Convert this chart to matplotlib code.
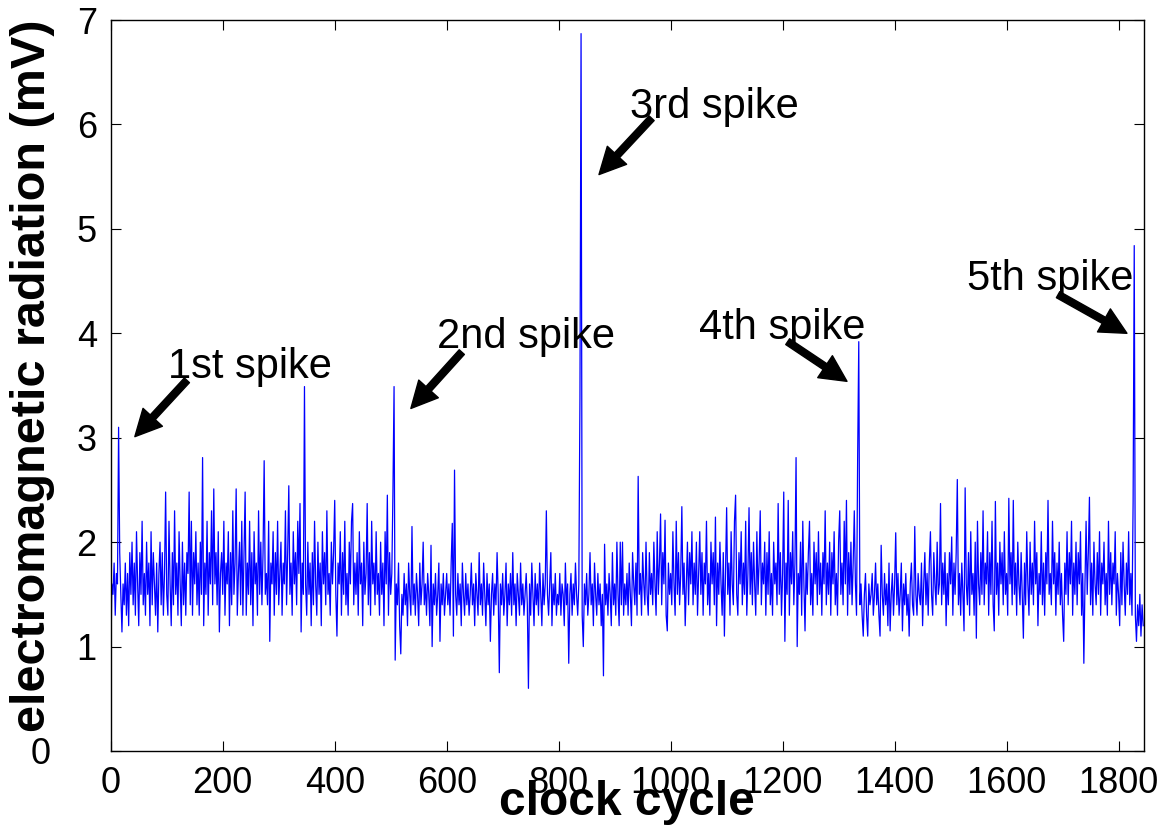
import numpy as np
import matplotlib
matplotlib.use("Agg")
import matplotlib.pyplot as plt

plt.rcParams['font.family'] = ['Liberation Sans', 'DejaVu Sans']

radiation_mv = [
    0.8, 1.6, 1.5, 1.8, 1.3, 1.7, 1.6, 3.1, 1.9, 1.5, 1.14, 1.6, 1.4, 1.8, 1.3, 1.7, 1.2, 1.9, 1.5, 2.0,
    1.4, 1.8, 1.3, 2.1, 1.6, 1.2, 1.9, 1.5, 2.2, 1.4, 1.7, 1.3, 2.0, 1.5, 1.8, 1.2, 2.1, 1.4, 1.9, 1.6,
    1.3, 1.8, 1.14, 1.7, 2.0, 1.4, 1.9, 1.3, 1.7, 2.48, 1.5, 1.3, 2.2, 1.6, 1.2, 1.9, 1.4, 2.3, 1.5, 1.8,
    1.3, 2.1, 1.6, 1.2, 2.0, 1.4, 1.8, 1.3, 1.9, 1.7, 2.48, 1.4, 2.2, 1.3, 1.9, 1.6, 2.1, 1.4, 1.8, 1.3,
    2.0, 1.5, 2.81, 1.2, 1.8, 1.5, 2.2, 1.3, 1.9, 1.6, 2.3, 1.4, 2.51, 1.6, 1.9, 1.4, 2.1, 1.14, 1.7, 1.9,
    1.5, 2.2, 1.3, 1.8, 1.6, 2.1, 1.2, 1.9, 1.4, 2.3, 1.5, 1.8, 2.51, 1.3, 1.7, 2.0, 1.4, 2.2, 1.3, 1.9,
    2.48, 1.3, 1.8, 1.5, 2.2, 1.4, 1.9, 1.2, 2.1, 1.6, 1.8, 1.3, 2.3, 1.5, 2.0, 1.4, 1.9, 2.78, 1.5, 1.7,
    1.4, 2.2, 1.05, 1.8, 1.6, 2.1, 1.3, 1.9, 1.5, 2.2, 1.4, 1.7, 2.0, 1.3, 1.8, 1.6, 2.3, 1.4, 1.9, 2.54,
    1.5, 1.8, 1.3, 2.1, 1.6, 1.9, 1.4, 2.2, 1.7, 2.37, 1.14, 1.8, 1.5, 3.49, 1.6, 1.3, 2.0, 1.5, 1.8, 1.2,
    1.9, 1.4, 2.2, 1.6, 1.3, 2.0, 1.5, 1.8, 1.2, 2.1, 1.6, 1.9, 1.4, 2.3, 1.5, 1.7, 1.3, 2.0, 1.6, 1.9,
    2.4, 1.5, 1.1, 1.8, 1.6, 2.1, 1.3, 1.9, 1.5, 2.2, 1.4, 1.7, 1.3, 2.0, 1.6, 2.2, 2.37, 1.4, 1.8, 1.5,
    1.9, 1.3, 2.1, 1.6, 1.8, 1.2, 2.0, 1.5, 1.7, 2.37, 1.4, 1.9, 1.3, 2.2, 1.6, 1.8, 1.4, 2.1, 1.5, 1.7,
    1.3, 2.0, 1.5, 1.8, 1.2, 2.1, 1.6, 2.45, 1.3, 1.9, 1.5, 1.7, 2.48, 3.49, 0.87, 1.6, 1.4, 1.8, 1.2, 0.93,
    1.5, 1.3, 1.7, 1.4, 1.6, 1.2, 1.8, 1.5, 1.3, 2.15, 1.4, 1.6, 1.3, 1.7, 1.5, 1.2, 1.8, 1.4, 1.6, 2.0,
    1.4, 1.6, 1.3, 1.7, 1.5, 1.2, 1.97, 1.0, 1.6, 1.4, 1.7, 1.3, 1.5, 1.8, 1.05, 1.6, 1.4, 1.7, 1.3, 1.5,
    1.7, 1.4, 1.6, 1.3, 1.8, 2.18, 1.1, 2.69, 1.5, 1.3, 1.7, 1.4, 1.6, 1.2, 1.8, 1.5, 1.3, 1.7, 1.4, 1.6,
    1.3, 1.5, 1.8, 1.4, 1.6, 1.2, 1.7, 1.5, 1.3, 1.9, 1.4, 1.6, 1.3, 1.8, 1.5, 1.2, 1.7, 1.4, 1.6, 1.05,
    1.5, 1.7, 1.3, 1.6, 1.4, 1.9, 1.5, 0.75, 1.6, 1.4, 1.7, 1.3, 1.5, 1.8, 1.2, 1.6, 1.4, 1.7, 1.3, 1.9,
    1.4, 1.6, 1.2, 1.7, 1.5, 1.3, 1.8, 1.4, 1.6, 1.3, 1.5, 1.7, 1.4, 0.6, 1.6, 1.3, 1.8, 1.5, 1.2, 1.7,
    1.4, 1.6, 1.3, 1.8, 1.5, 1.2, 1.7, 1.4, 1.6, 2.3, 1.5, 1.3, 1.6, 1.9, 1.2, 1.6, 1.4, 1.7, 1.3, 1.5,
    1.4, 1.7, 1.3, 1.6, 1.5, 1.2, 1.8, 1.4, 1.6, 0.84, 1.5, 1.7, 1.3, 1.6, 1.4, 1.8, 1.5, 1.3, 1.6, 3.38,
    6.87, 1.3, 1.0, 1.6, 1.4, 1.7, 1.3, 1.5, 1.9, 1.4, 1.6, 1.2, 1.8, 1.5, 1.3, 1.7, 1.4, 1.6, 1.2, 1.5,
    0.72, 1.98, 1.4, 1.6, 1.3, 1.7, 1.5, 1.2, 1.9, 1.4, 1.6, 1.3, 2.0, 1.5, 1.2, 2.0, 1.4, 2.0, 1.3, 1.6,
    1.4, 1.7, 1.3, 1.8, 1.5, 1.2, 1.9, 1.6, 1.4, 1.8, 1.3, 2.63, 1.5, 1.7, 1.3, 1.9, 1.6, 1.4, 2.0, 1.5,
    1.3, 1.9, 1.5, 1.7, 1.4, 2.0, 1.6, 1.3, 2.1, 1.5, 1.8, 2.27, 1.4, 1.9, 1.6, 2.21, 1.3, 1.15, 1.8, 1.5,
    1.7, 1.4, 2.1, 1.6, 1.3, 2.2, 1.5, 1.9, 1.4, 1.7, 2.34, 1.5, 1.8, 1.2, 1.6, 2.0, 1.4, 1.9, 1.6, 2.1,
    1.4, 1.8, 1.5, 2.0, 1.3, 1.7, 2.1, 1.5, 1.9, 1.3, 1.8, 1.6, 2.2, 1.4, 1.7, 1.3, 2.0, 1.6, 1.9, 1.4,
    2.24, 1.2, 1.8, 1.5, 2.0, 1.6, 1.3, 1.9, 1.1, 1.7, 2.33, 1.5, 1.8, 1.3, 2.1, 1.6, 1.4, 2.2, 2.45, 1.5,
    1.3, 1.9, 1.6, 2.1, 1.4, 1.8, 1.5, 2.2, 1.3, 1.7, 2.33, 1.5, 1.9, 1.4, 2.0, 1.6, 1.3, 2.1, 1.5, 1.8,
    2.3, 1.4, 1.8, 1.6, 2.0, 1.3, 1.9, 1.5, 2.1, 1.4, 1.7, 1.3, 2.0, 1.6, 1.8, 1.4, 2.37, 1.5, 1.9, 1.3,
    1.7, 2.48, 1.05, 1.8, 1.5, 2.4, 1.3, 1.9, 1.6, 2.1, 1.4, 1.8, 2.81, 1.0, 1.7, 1.5, 2.0, 1.3, 2.2, 1.6,
    1.15, 1.8, 1.5, 1.9, 2.2, 1.4, 1.7, 1.3, 2.0, 1.6, 1.9, 1.4, 2.1, 1.5, 1.8, 1.3, 1.9, 1.6, 2.3, 1.4,
    1.8, 1.5, 2.0, 1.3, 1.9, 1.6, 2.1, 1.4, 1.7, 1.3, 2.0, 2.3, 1.5, 1.8, 1.4, 2.2, 1.6, 2.4, 1.3, 1.9,
    1.5, 2.0, 1.4, 1.8, 2.3, 1.6, 1.3, 2.81, 3.92, 1.4, 1.6, 1.3, 1.1, 1.5, 1.7, 1.3, 1.1, 1.6, 1.4, 1.5,
    1.7, 1.3, 1.5, 1.8, 1.4, 1.6, 1.3, 1.1, 1.97, 1.5, 1.3, 1.7, 1.4, 1.6, 1.2, 1.8, 1.15, 1.5, 1.7, 1.3,
    1.6, 2.09, 1.4, 1.7, 1.3, 1.5, 1.8, 1.15, 1.6, 1.4, 1.7, 1.3, 1.5, 1.1, 1.6, 1.8, 1.4, 1.3, 2.15, 1.5,
    1.3, 1.7, 1.5, 1.4, 1.8, 1.2, 1.6, 1.9, 1.4, 1.7, 1.3, 1.8, 2.1, 1.5, 1.3, 1.9, 1.6, 1.4, 2.0, 1.5,
    1.6, 2.37, 1.4, 1.8, 1.5, 1.9, 1.2, 1.7, 1.4, 1.9, 1.6, 2.05, 1.3, 1.8, 1.5, 1.9, 2.6, 1.4, 1.7, 1.3,
    1.8, 1.5, 1.15, 2.52, 1.6, 1.4, 1.9, 1.3, 2.1, 1.5, 1.7, 1.3, 2.0, 1.08, 2.2, 1.6, 1.4, 1.9, 1.5, 2.3,
    1.4, 1.8, 1.6, 2.1, 1.3, 1.9, 1.5, 2.2, 1.4, 1.15, 2.39, 1.5, 1.8, 1.3, 2.0, 1.6, 1.9, 1.4, 2.1, 1.5,
    1.7, 1.3, 2.42, 1.6, 1.9, 1.4, 2.4, 1.5, 1.8, 1.3, 2.0, 1.6, 1.4, 1.9, 1.5, 1.08, 1.8, 1.4, 2.1, 1.6,
    1.3, 2.0, 1.5, 1.8, 1.4, 2.2, 1.6, 1.9, 1.2, 1.7, 1.5, 2.1, 1.4, 1.8, 1.3, 1.9, 1.6, 2.4, 1.5, 1.7,
    1.4, 2.2, 1.6, 1.9, 1.3, 1.8, 1.5, 2.0, 1.4, 1.7, 1.3, 1.05, 1.8, 1.5, 2.1, 1.4, 1.9, 1.6, 2.2, 1.3,
    1.8, 1.5, 2.0, 1.4, 1.9, 1.6, 2.1, 1.3, 1.7, 0.84, 1.6, 2.2, 1.5, 1.9, 2.43, 1.4, 1.8, 1.3, 2.0, 1.6,
    1.4, 1.9, 1.5, 2.1, 1.3, 1.8, 1.6, 2.0, 1.4, 1.7, 1.3, 2.2, 1.5, 1.9, 1.4, 1.8, 1.6, 2.1, 1.3, 1.7,
    1.5, 1.2, 1.9, 1.4, 2.0, 1.6, 1.3, 1.8, 1.5, 2.1, 1.4, 1.7, 1.3, 2.39, 4.84, 1.3, 1.05, 1.4, 1.2, 1.5,
    1.1, 1.4, 1.2,
]
cycle_step = 2
clock_cycle = np.arange(len(radiation_mv)) * cycle_step

spike_names = ['1st spike', '2nd spike', '3rd spike', '4th spike', '5th spike']
# arrow tip, arrow tail and text anchor (data coords) for each spike label
arrow_tips = [(43, 3.01), (536, 3.28), (872, 5.52), (1315, 3.54), (1815, 4.0)]
arrow_tails = [(136, 3.55), (627, 3.82), (966, 6.06), (1209, 3.92), (1692, 4.37)]
text_pos = [(103, 3.57), (583, 3.86), (928, 6.06), (1050, 3.95), (1529, 4.41)]

fig = plt.figure(figsize=(11.72, 8.35), dpi=100)
ax = fig.add_axes([0.0945, 0.1006, 0.8814, 0.8754])

ax.plot(clock_cycle, radiation_mv, color=(0, 0, 1), lw=0.9)

for name, tip, tail, tp in zip(spike_names, arrow_tips, arrow_tails, text_pos):
    ax.annotate('', xy=tip, xytext=tail,
                arrowprops=dict(facecolor='k', edgecolor='k', width=5,
                                headwidth=19, headlength=19, shrink=0))
    ax.text(tp[0], tp[1], name, fontsize=30, ha='left', va='baseline')

ax.set_xlim(0, 1845)
ax.set_ylim(0, 7)
ax.set_xticks(np.arange(0, 1801, 200))
ax.set_yticks(np.arange(0, 8, 1))
ax.tick_params(direction='in', top=True, right=True, length=7, width=0.8,
               labelsize=26)
ax.tick_params(axis='x', pad=11)
ax.tick_params(axis='y', pad=10)
# the "0" on the y axis sits further left in the original
ax.yaxis.get_major_ticks()[0].set_pad(43)
for s in ax.spines.values():
    s.set_linewidth(1.0)

ax.set_xlabel('clock cycle', fontsize=34.5, fontweight='bold')
ax.set_ylabel('electromagnetic radiation (mV)', fontsize=35, fontweight='bold')
ax.xaxis.set_label_coords(0.5, -0.04)
ax.yaxis.set_label_coords(-0.054, 0.513)

fig.savefig('out.png', dpi=100)
